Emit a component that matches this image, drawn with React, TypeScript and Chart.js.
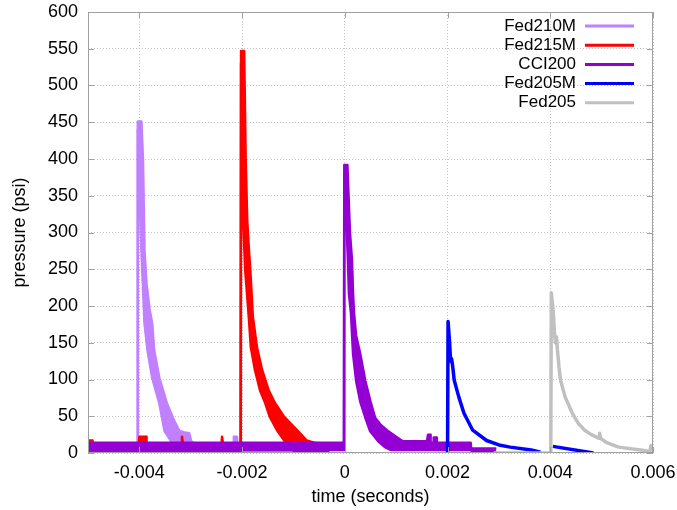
import React, { useEffect, useRef } from 'react';
import { Chart, registerables } from 'chart.js';

Chart.register(...registerables);

// ---- axes ----
const X_TICKS = [-0.004, -0.002, 0, 0.002, 0.004, 0.006];
const X_TICK_LABELS = ['-0.004', '-0.002', '0', '0.002', '0.004', '0.006'];
const Y_TICKS = [0, 50, 100, 150, 200, 250, 300, 350, 400, 450, 500, 550, 600];
const X_TITLE = 'time (seconds)';
const Y_TITLE = 'pressure (psi)';

// ---- series ----
const SERIES_NAMES = ['Fed210M', 'Fed215M', 'CCI200', 'Fed205M', 'Fed205'];
const SERIES_COLORS = ['#c080ff', '#ff0000', '#9400d3', '#0000ff', '#c0c0c0'];

// [time in ms, pressure in psi]; noisy traces given as upper / lower envelope
const fed210mUpper: [number, number][] = [
  [-5.0, 10], [-4.04, 10], [-4.03, 451], [-3.96, 451], [-3.93, 400], [-3.9, 275],
  [-3.86, 230], [-3.8, 195], [-3.75, 176], [-3.71, 139], [-3.61, 102], [-3.46, 67],
  [-3.33, 45], [-3.22, 30], [-3.12, 28], [-3.03, 27], [-2.99, 16], [-2.9, 12],
  [-2.17, 12], [-2.16, 22], [-2.1, 22], [-2.09, 12], [-0.5, 12],
];
const fed210mLower: [number, number][] = [
  [-5.0, 3], [-4.035, 3], [-4.03, 440], [-4.02, 398], [-3.96, 275], [-3.9, 176],
  [-3.84, 139], [-3.75, 102], [-3.61, 67], [-3.51, 30], [-3.38, 16], [-3.32, 8],
  [-3.25, 3], [-0.5, 3],
];

const fed215mUpper: [number, number][] = [
  [-5.0, 17], [-4.92, 17], [-4.91, 12], [-4.01, 12], [-4.0, 22], [-3.87, 22],
  [-3.86, 12], [-3.18, 12], [-3.17, 22], [-3.15, 12], [-2.4, 12], [-2.39, 22],
  [-2.37, 12], [-2.03, 12], [-2.02, 547], [-1.96, 547], [-1.93, 400], [-1.9, 317],
  [-1.87, 280], [-1.84, 249], [-1.79, 185], [-1.71, 144], [-1.61, 113], [-1.48, 85],
  [-1.36, 68], [-1.18, 49], [-0.93, 31], [-0.74, 17], [-0.6, 14], [-0.3, 12],
];
const fed215mLower: [number, number][] = [
  [-5.0, 3], [-2.025, 3], [-2.02, 530], [-1.98, 317], [-1.94, 249], [-1.87, 185],
  [-1.83, 144], [-1.75, 113], [-1.65, 85], [-1.55, 68], [-1.46, 49], [-1.32, 31],
  [-1.18, 17], [-1.08, 10], [-1.0, 3], [-0.3, 3],
];

const cci200Upper: [number, number][] = [
  [-5.0, 14], [-0.02, 14], [-0.01, 392], [0.05, 392], [0.1, 300], [0.14, 262],
  [0.16, 217], [0.18, 190], [0.22, 160], [0.3, 135], [0.4, 98], [0.5, 70],
  [0.59, 48], [0.7, 38], [0.84, 30], [1.0, 22], [1.13, 16], [1.6, 16],
  [1.62, 25], [1.66, 25], [1.67, 14], [1.72, 14], [1.73, 21], [1.78, 21],
  [1.79, 14], [2.45, 14], [2.46, 6], [2.95, 6],
];
const cci200Lower: [number, number][] = [
  [-5.0, 4], [-0.015, 4], [-0.01, 380], [0.02, 340], [0.06, 262], [0.08, 217],
  [0.12, 190], [0.16, 135], [0.22, 98], [0.3, 70], [0.4, 48], [0.49, 30],
  [0.65, 16], [0.78, 8], [0.9, 4], [2.45, 4], [2.5, 1], [2.95, 1],
];

const fed205mTrace: ([number, number] | null)[] = [
  [1.97, 0], [2.0, 0], [2.01, 179], [2.04, 150], [2.06, 125], [2.08, 128],
  [2.1, 118], [2.13, 99], [2.22, 76], [2.32, 54], [2.49, 31], [2.76, 17],
  [3.0, 11], [3.22, 8], [3.63, 4], [3.81, 1], null, [4.05, 9], [4.84, 0],
];

const fed205Trace: [number, number][] = [
  [2.9, 0], [4.01, 0], [4.02, 218], [4.04, 205], [4.06, 190], [4.08, 165],
  [4.1, 150], [4.12, 158], [4.14, 140], [4.17, 117], [4.2, 99], [4.29, 76],
  [4.43, 54], [4.55, 40], [4.67, 31], [4.8, 25], [4.95, 20], [4.96, 27],
  [4.98, 20], [5.1, 14], [5.33, 8], [5.76, 4], [5.94, 2], [5.96, 10], [6.0, 10],
];

const FONT = "'Liberation Sans', Arial, sans-serif";

const toPts = (arr: ([number, number] | null)[]) =>
  arr.map((p, i) => (p ? { x: p[0] / 1000, y: p[1] } : { x: (arr[i - 1]![0] + 0.01) / 1000, y: null }));

const borderPlugin = {
  id: 'gpBorder',
  afterDraw(chart: any) {
    const { ctx, chartArea: a, scales } = chart;
    ctx.save();
    ctx.strokeStyle = '#a0a0a0';
    ctx.lineWidth = 1;
    ctx.strokeRect(a.left + 0.5, a.top + 0.5, a.right - a.left - 1, a.bottom - a.top - 1);
    ctx.beginPath();
    const tl = 6;
    X_TICKS.forEach((v) => {
      const x = Math.round(scales.x.getPixelForValue(v)) + 0.5;
      ctx.moveTo(x, a.bottom); ctx.lineTo(x, a.bottom - tl);
      ctx.moveTo(x, a.top); ctx.lineTo(x, a.top + tl);
    });
    Y_TICKS.forEach((v) => {
      const y = Math.round(scales.y.getPixelForValue(v)) + 0.5;
      ctx.moveTo(a.left, y); ctx.lineTo(a.left + tl, y);
      ctx.moveTo(a.right, y); ctx.lineTo(a.right - tl, y);
    });
    ctx.stroke();
    // legend
    ctx.font = `17px ${FONT}`;
    ctx.textAlign = 'right';
    ctx.textBaseline = 'middle';
    SERIES_NAMES.forEach((name, i) => {
      const y = 26 + i * 19.2;
      ctx.fillStyle = '#000';
      ctx.fillText(name, 576, y);
      ctx.strokeStyle = SERIES_COLORS[i];
      ctx.lineWidth = 3;
      ctx.beginPath();
      ctx.moveTo(585, y);
      ctx.lineTo(634, y);
      ctx.stroke();
    });
    ctx.restore();
  },
};

export default function App() {
  const ref = useRef<HTMLCanvasElement>(null);
  useEffect(() => {
    if (!ref.current) return;
    const common = { pointRadius: 0, tension: 0, borderJoinStyle: 'round' as const, borderWidth: 2.5 };
    const band = (name: string, color: string, up: [number, number][], lo: [number, number][], order: number) => [
      { ...common, label: name, data: toPts(up), borderColor: color, backgroundColor: color, fill: '+1', order },
      { ...common, label: name + ' (lower)', data: toPts(lo), borderColor: color, backgroundColor: color, fill: false, order },
    ];
    const chart = new Chart(ref.current, {
      type: 'line',
      data: {
        datasets: [
          ...band(SERIES_NAMES[0], SERIES_COLORS[0], fed210mUpper, fed210mLower, 4),
          ...band(SERIES_NAMES[1], SERIES_COLORS[1], fed215mUpper, fed215mLower, 3),
          ...band(SERIES_NAMES[2], SERIES_COLORS[2], cci200Upper, cci200Lower, 2),
          { ...common, borderWidth: 3.5, label: SERIES_NAMES[3], data: toPts(fed205mTrace), borderColor: SERIES_COLORS[3], fill: false, order: 1, spanGaps: false },
          { ...common, borderWidth: 3.5, label: SERIES_NAMES[4], data: toPts(fed205Trace), borderColor: SERIES_COLORS[4], fill: false, order: 0 },
        ] as any,
      },
      options: {
        animation: false,
        responsive: false,
        events: [],
        layout: { padding: { left: 0, top: 12, right: 24, bottom: 0 } },
        plugins: { legend: { display: false }, tooltip: { enabled: false } },
        scales: {
          x: {
            type: 'linear',
            min: -0.005,
            max: 0.006,
            afterBuildTicks: (s: any) => { s.ticks = X_TICKS.map((v) => ({ value: v })); },
            afterFit: (s: any) => { s.height = 57; s.paddingLeft = 0; s.paddingRight = 0; },
            ticks: {
              autoSkip: false,
              maxRotation: 0,
              padding: 9,
              color: '#000',
              font: { family: FONT, size: 18 },
              callback: (_v: any, i: number) => X_TICK_LABELS[i],
            },
            grid: { color: '#c4c4c4', lineWidth: 1, drawTicks: false },
            border: { display: false, dash: [1, 2] },
            title: { display: true, text: X_TITLE, color: '#000', font: { family: FONT, size: 18 }, padding: { top: 0, bottom: 2 } },
          },
          y: {
            type: 'linear',
            min: 0,
            max: 600,
            afterBuildTicks: (s: any) => { s.ticks = Y_TICKS.map((v) => ({ value: v })); },
            afterFit: (s: any) => { s.width = 88; s.paddingTop = 0; s.paddingBottom = 0; },
            ticks: {
              padding: 10,
              color: '#000',
              font: { family: FONT, size: 18 },
              callback: (v: any) => String(v),
            },
            grid: { color: '#c4c4c4', lineWidth: 1, drawTicks: false },
            border: { display: false, dash: [1, 2] },
            title: { display: true, text: Y_TITLE, color: '#000', font: { family: FONT, size: 18 }, padding: { top: 9, bottom: 0 } },
          },
        },
      },
      plugins: [borderPlugin],
    } as any);
    return () => chart.destroy();
  }, []);
  return (
    <div style={{ position: 'fixed', left: 0, top: 0, width: 677, height: 510, background: '#fff' }}>
      <canvas ref={ref} width={677} height={510} style={{ width: 677, height: 510, display: 'block' }} />
    </div>
  );
}
